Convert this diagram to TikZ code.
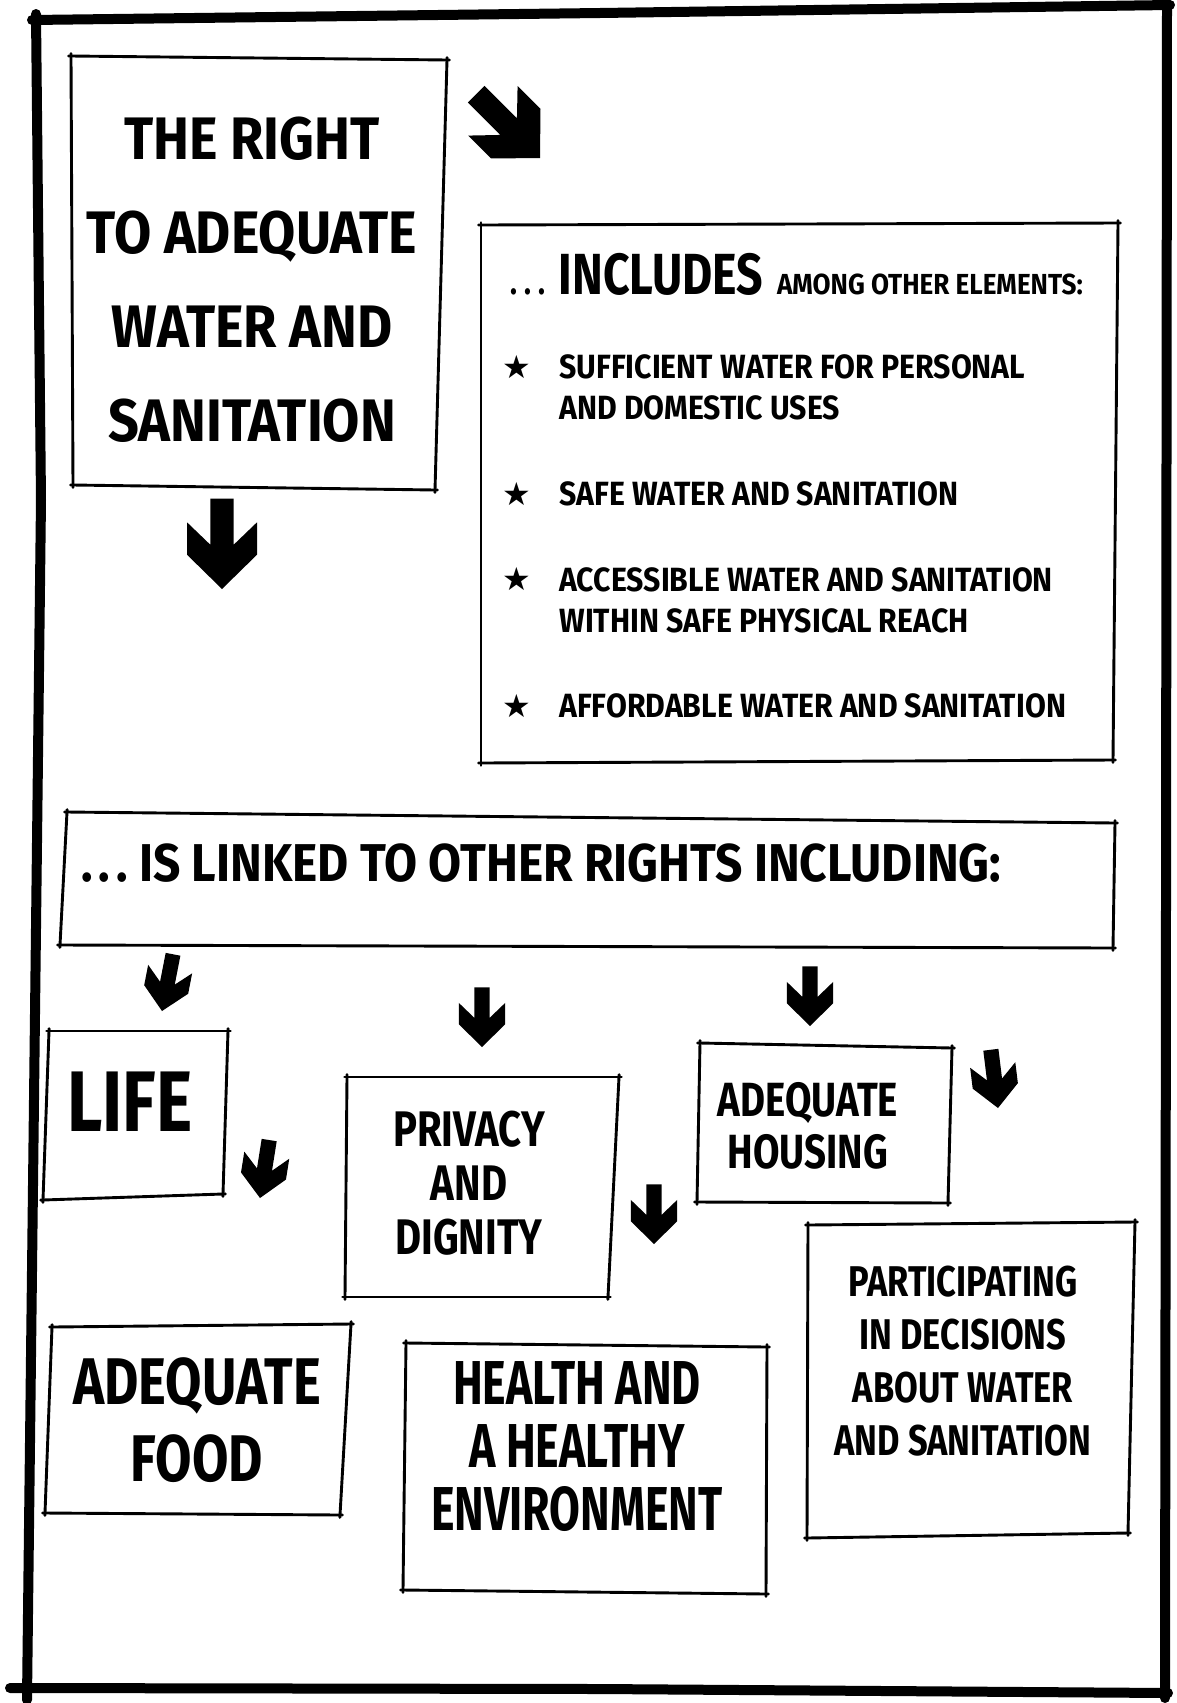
\documentclass[tikz,border=0pt]{standalone}
\usepackage{fontspec}
\newfontfamily\hand{Fira Sans}[FakeStretch=0.8]
\newfontfamily\handW{Fira Sans}[FakeStretch=0.9]
\newfontfamily\handC{Fira Sans}[FakeStretch=0.72]
\newfontfamily\sym{DejaVu Sans}
\newcommand\fs[2]{\fontsize{#1}{#2}\selectfont}
\newcommand\skbox[4]{%
  \draw[sketch] #1 -- #2;
  \draw[sketch] #2 -- #3;
  \draw[sketch] #3 -- #4;
  \draw[sketch] #4 -- #1;}
\begin{document}
\begin{tikzpicture}[x=0.5pt,y=-0.5pt,
  sketch/.style={draw=black, line width=1.45pt, line cap=round, shorten <=-1.2pt, shorten >=-1.2pt},
  frame/.style={draw=black, line width=5pt, line cap=round},
  txt/.style={inner sep=0pt, align=center, font=\hand\bfseries},
  btxt/.style={inner sep=0pt, align=left, anchor=west, font=\handW\bfseries\fs{16.8}{20.5}},
  star/.style={inner sep=0pt, font=\sym\fs{16}{16}},
  blockarrow/.pic={\fill (0,0) -- (-35,-34.3) -- (-35,-66.7) -- (-11.7,-44.3) -- (-11.7,-90.3) -- (11.7,-90.3) -- (11.7,-44.3) -- (35,-66.7) -- (35,-34.3) -- cycle;}
]
\fill[white] (0,0) rectangle (1177,1703);
\useasboundingbox (0,0) rectangle (1177,1703);
% outer frame
\draw[frame] (32,20) -- (600,13) -- (1170,5);
\draw[frame] (1167,4) -- (1166,900) -- (1165,1698);
\draw[frame] (10,1688) -- (600,1689) -- (1168,1693);
\draw[frame] (36,14) -- (41,500) -- (27,1700);

% title
\skbox{(71,56)}{(447,60)}{(435,490)}{(73,485)}
\node[txt, font=\handW\bfseries\fs{30}{47}] (titletext) at (252,280) {THE RIGHT\\TO ADEQUATE\\WATER AND\\SANITATION};
\pic at (540,158) [rotate=45] {blockarrow};
\pic at (222,589) {blockarrow};

% includes
\skbox{(481,225)}{(1118,223)}{(1113,760)}{(481,763)}
\node[inner sep=0pt, anchor=base west, font=\hand\bfseries\fs{18}{20}] (inctext) at (510,294) {.\kern3.5pt.\kern3.5pt.\ \ {\fs{29}{30}INCLUDES}\ \ {\handW\bfseries\fs{14.5}{16}AMONG OTHER ELEMENTS:}};
\node[star] (s1) at (517,367) {★};
\node[star] (s2) at (517,494) {★};
\node[star] (s3) at (517,579) {★};
\node[star] (s4) at (517,706) {★};
\node[btxt] (b1) at (559,387) {SUFFICIENT WATER FOR PERSONAL\\AND DOMESTIC USES};
\node[btxt] (b2) at (559,494) {SAFE WATER AND SANITATION};
\node[btxt] (b3) at (559,600) {ACCESSIBLE WATER AND SANITATION\\WITHIN SAFE PHYSICAL REACH};
\node[btxt] (b4) at (559,706) {AFFORDABLE WATER AND SANITATION};

% linked
\skbox{(67,812)}{(1115,823)}{(1113,948)}{(60,945)}
\node[inner sep=0pt, anchor=base west, font=\handW\bfseries\fs{26.6}{30}] (linktext) at (81,881) {.\kern3pt.\kern3pt.\ IS LINKED TO OTHER RIGHTS INCLUDING:};

% arrows to rights
\pic at (162,1011) [scale=0.64, rotate=-11] {blockarrow};
\pic at (482,1047) [scale=0.66] {blockarrow};
\pic at (810,1026) [scale=0.66] {blockarrow};
\pic at (998,1108) [scale=0.65, rotate=7] {blockarrow};
\pic at (260,1198) [scale=0.65, rotate=-9] {blockarrow};
\pic at (654,1244) [scale=0.66] {blockarrow};

% rights boxes
\skbox{(49,1031)}{(228,1031)}{(223,1194)}{(43,1200)}
\node[txt, font=\hand\bfseries\fs{43}{50}] (lifetext) at (130,1102) {LIFE};

\skbox{(347,1077)}{(619,1077)}{(608,1297)}{(345,1297)}
\node[txt, font=\hand\bfseries\fs{25}{27}] (privtext) at (469,1183) {PRIVACY\\AND\\DIGNITY};

\skbox{(700,1043)}{(952,1048)}{(948,1203)}{(697,1202)}
\node[txt, font=\hand\bfseries\fs{24}{26}] (housetext) at (808,1126) {ADEQUATE\\HOUSING};

\skbox{(808,1225)}{(1135,1222)}{(1128,1533)}{(807,1538)}
\node[txt, font=\hand\bfseries\fs{21.5}{26.5}] (parttext) at (963,1361) {PARTICIPATING\\IN DECISIONS\\ABOUT WATER\\AND SANITATION};

\skbox{(52,1327)}{(351,1324)}{(340,1515)}{(45,1513)}
\node[txt, font=\hand\bfseries\fs{33}{38.5}] (foodtext) at (197,1420) {ADEQUATE\\FOOD};

\skbox{(406,1343)}{(767,1347)}{(766,1594)}{(403,1590)}
\node[txt, font=\handC\bfseries\fs{31}{31.5}] (healthtext) at (577,1447) {HEALTH AND\\A HEALTHY\\ENVIRONMENT};
\end{tikzpicture}
\end{document}
